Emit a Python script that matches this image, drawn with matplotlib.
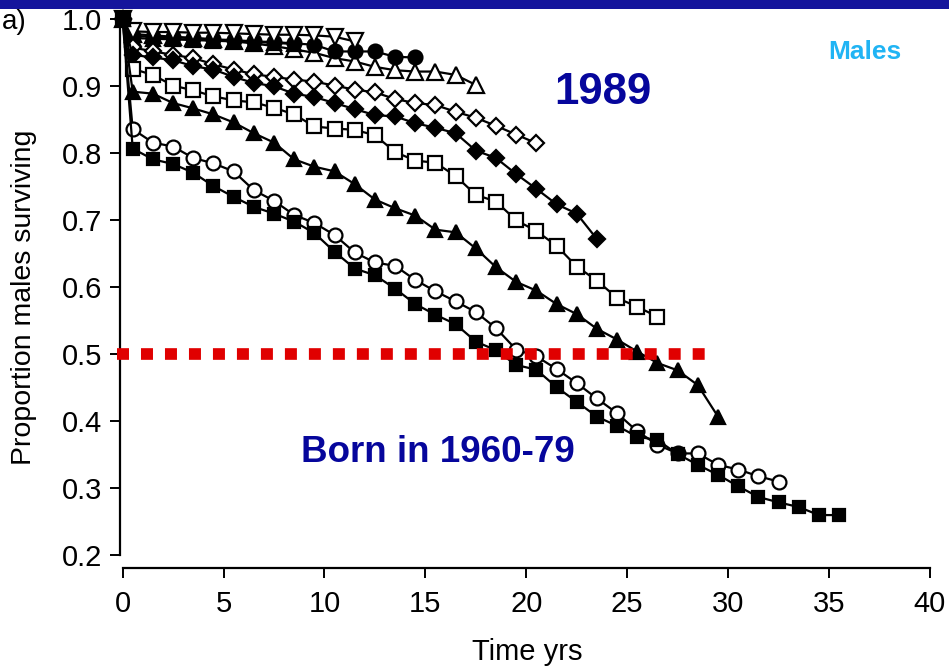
import matplotlib
matplotlib.use("Agg")
import matplotlib.pyplot as plt
from matplotlib import font_manager
from matplotlib.patches import Rectangle

# ---------------- data ----------------
time_points = [0, 0.5, 1.5, 2.5, 3.5, 4.5, 5.5, 6.5, 7.5, 8.5, 9.5, 10.5, 11.5,
               12.5, 13.5, 14.5, 15.5, 16.5, 17.5, 18.5, 19.5, 20.5, 21.5, 22.5,
               23.5, 24.5, 25.5, 26.5, 27.5, 28.5, 29.5, 30.5, 31.5, 32.5, 33.5,
               34.5, 35.5]

born_1960_79 = [1.0, 0.807, 0.791, 0.784, 0.771, 0.751, 0.735, 0.720, 0.710, 0.698,
                0.681, 0.653, 0.628, 0.618, 0.598, 0.575, 0.559, 0.545, 0.519,
                0.506, 0.484, 0.477, 0.451, 0.429, 0.407, 0.393, 0.377, 0.372,
                0.351, 0.335, 0.320, 0.303, 0.287, 0.279, 0.272, 0.260, 0.260]
cohort_open_circle = [1.0, 0.836, 0.816, 0.810, 0.793, 0.785, 0.773, 0.745, 0.729,
                      0.708, 0.696, 0.678, 0.652, 0.637, 0.632, 0.611, 0.594, 0.579,
                      0.563, 0.539, 0.507, 0.497, 0.478, 0.457, 0.434, 0.412, 0.385,
                      0.365, 0.352, 0.352, 0.335, 0.328, 0.318, 0.310]
cohort_filled_triangle = [1.0, 0.892, 0.889, 0.875, 0.867, 0.858, 0.846, 0.830, 0.816,
                          0.791, 0.780, 0.773, 0.754, 0.731, 0.718, 0.707, 0.686,
                          0.682, 0.658, 0.630, 0.608, 0.595, 0.575, 0.560, 0.538,
                          0.522, 0.504, 0.487, 0.476, 0.454, 0.407]
cohort_open_square = [1.0, 0.926, 0.917, 0.901, 0.894, 0.885, 0.879, 0.876, 0.868,
                      0.858, 0.840, 0.837, 0.835, 0.827, 0.802, 0.789, 0.786, 0.766,
                      0.738, 0.728, 0.700, 0.684, 0.662, 0.631, 0.610, 0.584, 0.571,
                      0.556]
cohort_filled_diamond = [1.0, 0.947, 0.943, 0.939, 0.930, 0.925, 0.914, 0.905, 0.900,
                         0.889, 0.884, 0.875, 0.866, 0.857, 0.855, 0.845, 0.838,
                         0.830, 0.804, 0.793, 0.769, 0.747, 0.724, 0.710, 0.672]
cohort_open_diamond = [1.0, 0.958, 0.952, 0.947, 0.942, 0.933, 0.925, 0.918, 0.914,
                       0.910, 0.907, 0.901, 0.895, 0.891, 0.881, 0.875, 0.872, 0.862,
                       0.853, 0.841, 0.828, 0.815]
cohort_open_triangle = [1.0, 0.978, 0.976, 0.974, 0.972, 0.970, 0.967, 0.964, 0.960,
                        0.955, 0.950, 0.942, 0.937, 0.929, 0.924, 0.922, 0.922, 0.917,
                        0.902]
cohort_filled_circle = [1.0, 0.975, 0.974, 0.973, 0.972, 0.970, 0.969, 0.967, 0.966,
                        0.964, 0.962, 0.952, 0.952, 0.952, 0.944, 0.943]
cohort_open_down_triangle = [1.0, 0.982, 0.981, 0.981, 0.980, 0.980, 0.979, 0.978,
                             0.977, 0.977, 0.976, 0.974, 0.967]
cohort_top_filled_triangle = [1.0, 0.972, 0.971, 0.970, 0.969, 0.968, 0.967, 0.966,
                              0.965, 0.963]

x_ticks = [0, 5, 10, 15, 20, 25, 30, 35, 40]
y_ticks = [0.2, 0.3, 0.4, 0.5, 0.6, 0.7, 0.8, 0.9, 1.0]
half_survival = 0.5
half_line_span = [-0.28, 28.9]

# ---------------- fonts ----------------
names = {f.name for f in font_manager.fontManager.ttflist}
base_font = "Liberation Sans" if "Liberation Sans" in names else "DejaVu Sans"
narrow_font = "Liberation Sans Narrow" if "Liberation Sans Narrow" in names else base_font
plt.rcParams["font.family"] = [base_font, "DejaVu Sans"]

W, H = 949, 667
fig = plt.figure(figsize=(W / 100, H / 100), dpi=100)

# axes placement (pixel based)
ax_left_px, ax_right_px = 120, 940
ax_top_px, ax_bot_px = 15.95, 568
ax = fig.add_axes([ax_left_px / W, (H - ax_bot_px) / H,
                   (ax_right_px - ax_left_px) / W, (ax_bot_px - ax_top_px) / H])
ax.set_xlim(-0.13, 40.5)
ax.set_ylim(0.181, 1.005)

# banner
fig.add_artist(Rectangle((0, 1 - 9 / H), 1, 9 / H, transform=fig.transFigure,
                         facecolor="#15159c", edgecolor="none", zorder=0))

line_kw = dict(color="black", lw=1.6, clip_on=False)
series = [
    (cohort_open_triangle, "^", "white", 11),
    (cohort_filled_circle, "o", "black", 10),
    (cohort_top_filled_triangle, "^", "black", 10.5),
    (cohort_open_down_triangle, "v", "white", 11),
    (cohort_open_diamond, "D", "white", 8.5),
    (cohort_filled_diamond, "D", "black", 8.5),
    (cohort_open_square, "s", "white", 9.5),
    (cohort_filled_triangle, "^", "black", 9.5),
    (cohort_open_circle, "o", "white", 10),
    (born_1960_79, "s", "black", 9),
]
for vals, mk, fc, ms in series:
    ax.plot(time_points[:len(vals)], vals, marker=mk, markerfacecolor=fc,
            markeredgecolor="black", markeredgewidth=1.6, markersize=ms, **line_kw)

# 50% line
ax.plot(half_line_span, [half_survival, half_survival], color="#e00000", lw=8.4,
        linestyle=(0, (1.028, 1.028)), dash_capstyle="butt", solid_capstyle="butt",
        clip_on=False, zorder=5)

# spines R style
for s in ["top", "right"]:
    ax.spines[s].set_visible(False)
ax.spines["left"].set_bounds(0.2, 1.0)
ax.spines["bottom"].set_bounds(0, 40)
for s in ["left", "bottom"]:
    ax.spines[s].set_linewidth(1.6)
ax.set_xticks(x_ticks)
ax.set_yticks(y_ticks)
ax.set_yticklabels([f"{v:.1f}" for v in y_ticks])
ax.tick_params(axis="both", direction="out", length=7, width=1.4, color="black")
ax.tick_params(axis="y", pad=6, labelsize=21)
ax.tick_params(axis="x", pad=9, labelsize=21)
for lab in ax.get_xticklabels():
    lab.set_fontfamily([narrow_font, "DejaVu Sans"])

fig.text(24 / W, 1 - 297 / H, "Proportion males surviving", rotation=90,
         ha="center", va="center", fontsize=20.5)
fig.text(527 / W, 1 - 652 / H, "Time yrs", ha="center", va="center", fontsize=21,
         fontfamily=[narrow_font, "DejaVu Sans"])
fig.text(2 / W, 1 - 22 / H, "a)", ha="left", va="center", fontsize=20)

fig.text(603 / W, 1 - 93 / H, "1989", ha="center", va="center", fontsize=31.5,
         fontweight="bold", color="#06069c")
fig.text(438 / W, 1 - 452 / H, "Born in 1960-79", ha="center", va="center",
         fontsize=26.5, fontweight="bold", color="#06069c")
fig.text(865 / W, 1 - 52 / H, "Males", ha="center", va="center", fontsize=19,
         fontweight="bold", color="#20b4f4")

fig.savefig("out.png", dpi=100)
